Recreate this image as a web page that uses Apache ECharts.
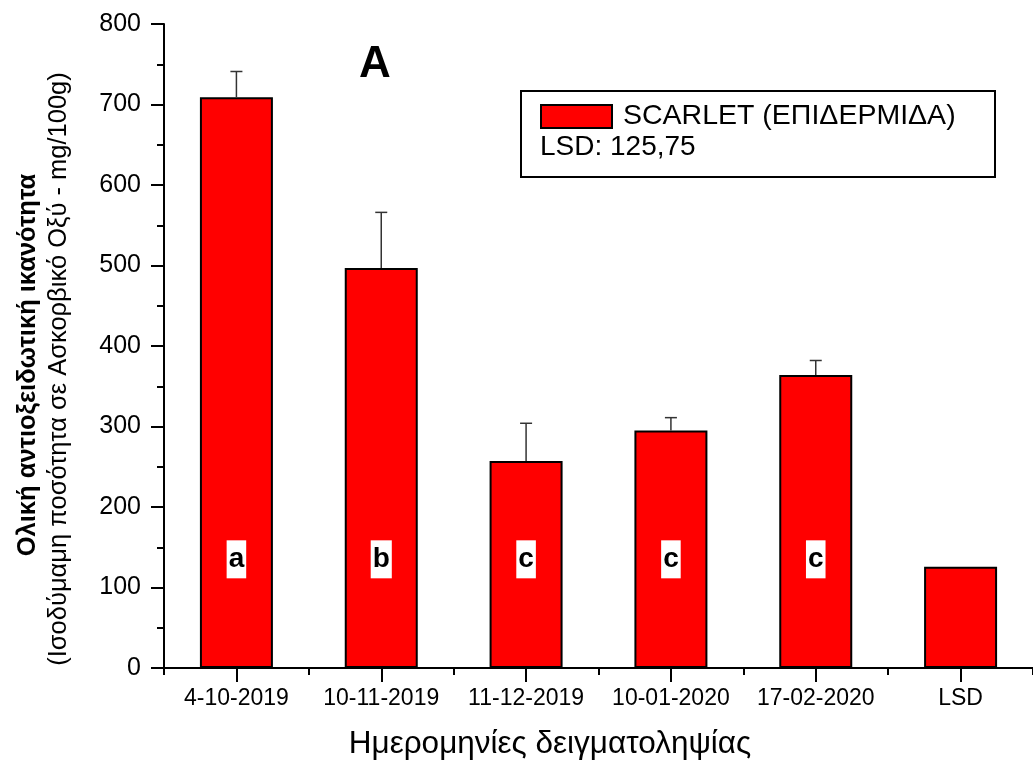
<!DOCTYPE html>
<html>
<head>
<meta charset="utf-8">
<script src="https://cdn.jsdelivr.net/npm/echarts@6/dist/echarts.min.js"></script>
<style>
  html, body { margin: 0; padding: 0; background: #fff; }
  #chart { width: 1033px; height: 760px; }
</style>
</head>
<body>
<div id="chart"></div>
<script>
// Sampling dates and the LSD reference column
const categories = ['4-10-2019', '10-11-2019', '11-12-2019', '10-01-2020', '17-02-2020', 'LSD'];
// Mean total antioxidant capacity (mg ascorbic acid eq. / 100 g)
const means = [709, 497, 257, 295, 364, 125.75];
// Upper error (standard deviation) per date; LSD column has none
const errors = [32, 69, 47, 16, 18, null];
// Significance letters shown inside the bars
const letters = ['a', 'b', 'c', 'c', 'c', ''];
const letterLevel = 135;
const yTicks = { min: 0, max: 800, interval: 100 };

const FONT = "'Liberation Sans', Arial, sans-serif";

const chart = echarts.init(document.getElementById('chart'), null, { renderer: 'canvas' });

const errorData = means.map((m, i) => errors[i] == null ? null : [i, m, m + errors[i]]).filter(d => d);
const letterData = letters.map((l, i) => l ? [i, letterLevel, l] : null).filter(d => d);

const option = {
  backgroundColor: '#fff',
  animation: false,
  grid: { left: 164, right: 0, top: 24, bottom: 92, containLabel: false },
  legend: {
    show: true,
    left: 535, top: 97,
    itemWidth: 71, itemHeight: 23,
    icon: 'rect',
    data: ['SCARLET (ΕΠΙΔΕΡΜΙΔΑ)'],
    textStyle: { fontFamily: FONT, fontSize: 28.5, color: '#000', padding: [0, 0, 0, 6] },
    selectedMode: false
  },
  xAxis: [
    {
      type: 'category',
      data: categories,
      axisLine: { show: true, lineStyle: { color: '#000', width: 2 } },
      axisTick: { show: true, alignWithLabel: true, length: 14, lineStyle: { color: '#000', width: 2 } },
      axisLabel: { interval: 0, fontFamily: FONT, fontSize: 23, color: '#000', margin: 19 },
      splitLine: { show: false }
    },
    {
      type: 'category',
      data: categories,
      position: 'bottom',
      axisLine: { show: false },
      axisTick: { show: true, interval: 0, length: 7, lineStyle: { color: '#000', width: 2 } },
      axisLabel: { show: false },
      splitLine: { show: false }
    }
  ],
  yAxis: {
    type: 'value',
    min: yTicks.min, max: yTicks.max, interval: yTicks.interval,
    axisLine: { show: true, lineStyle: { color: '#000', width: 2 } },
    axisTick: { show: true, length: 13, lineStyle: { color: '#000', width: 2 } },
    minorTick: { show: true, splitNumber: 2, length: 7, lineStyle: { color: '#000', width: 2 } },
    axisLabel: { fontFamily: FONT, fontSize: 25, color: '#000', margin: 23 },
    splitLine: { show: false },
    minorSplitLine: { show: false }
  },
  series: [
    {
      name: 'SCARLET (ΕΠΙΔΕΡΜΙΔΑ)',
      type: 'bar',
      data: means,
      barWidth: 73,
      itemStyle: { color: '#ff0000', borderColor: '#000', borderWidth: 2 },
      z: 2
    },
    {
      name: 'error',
      type: 'custom',
      data: errorData,
      encode: { x: 0, y: [1, 2] },
      z: 3,
      renderItem: function (params, api) {
        const idx = api.value(0);
        const base = api.coord([idx, api.value(1)]);
        const top = api.coord([idx, api.value(2)]);
        const half = 6;
        const style = { stroke: '#333', lineWidth: 1.5 };
        return {
          type: 'group',
          children: [
            { type: 'line', shape: { x1: base[0], y1: base[1], x2: top[0], y2: top[1] }, style: style },
            { type: 'line', shape: { x1: top[0] - half, y1: top[1], x2: top[0] + half, y2: top[1] }, style: style }
          ]
        };
      }
    },
    {
      name: 'letters',
      type: 'scatter',
      data: letterData,
      symbolSize: 0,
      z: 4,
      itemStyle: { opacity: 1 },
      label: {
        show: true,
        position: 'inside',
        formatter: p => p.value[2],
        fontFamily: FONT,
        fontSize: 28,
        fontWeight: 'bold',
        color: '#000',
        backgroundColor: '#fff',
        padding: [6, 2, 4, 2]
      }
    }
  ],
  graphic: [
    // legend frame
    { type: 'rect', shape: { x: 521, y: 91, width: 474, height: 86 }, style: { fill: 'none', stroke: '#000', lineWidth: 2 }, z: 0 },
    { type: 'text', x: 540, y: 147, style: { text: 'LSD: 125,75', font: '28px ' + FONT, fill: '#000', textVerticalAlign: 'middle' } },
    // panel letter
    { type: 'text', x: 375, y: 65, style: { text: 'A', font: 'bold 44px ' + FONT, fill: '#000', textAlign: 'center', textVerticalAlign: 'middle' } },
    // axis titles
    { type: 'text', x: 550, y: 744, style: { text: 'Ημερομηνίες δειγματοληψίας', font: '31.5px ' + FONT, fill: '#000', textAlign: 'center', textVerticalAlign: 'middle' } },
    { type: 'text', x: 28, y: 365, rotation: Math.PI / 2, style: { text: 'Ολική αντιοξειδωτική ικανότητα', font: 'bold 25.5px ' + FONT, fill: '#000', textAlign: 'center', textVerticalAlign: 'middle' } },
    { type: 'text', x: 59, y: 369, rotation: Math.PI / 2, style: { text: '(Ισοδύμαμη ποσότητα σε Ασκορβικό Οξύ - mg/100g)', font: '25.5px ' + FONT, fill: '#000', textAlign: 'center', textVerticalAlign: 'middle' } }
  ]
};

chart.setOption(option);
</script>
</body>
</html>
